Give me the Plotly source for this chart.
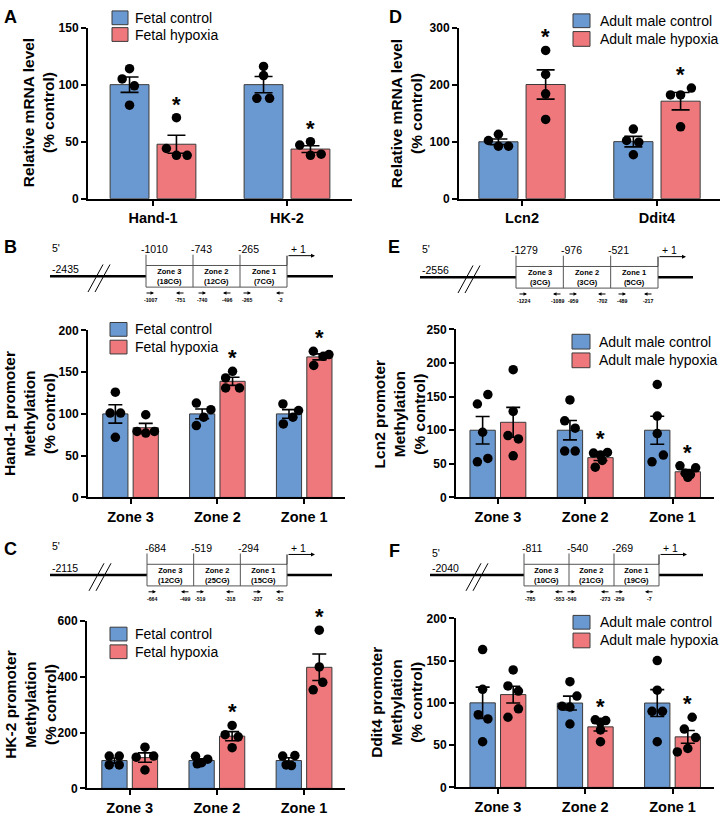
import numpy as np
import plotly.graph_objects as go

# ---------------- data ----------------
FETAL_NAMES = ["Fetal control", "Fetal hypoxia"]
ADULT_NAMES = ["Adult male control", "Adult male hypoxia"]
ZONES = ["Zone 3", "Zone 2", "Zone 1"]

# A: fetal mRNA
A_CATS = ["Hand-1", "HK-2"]
A_CTRL = [[114, 105, 99, 82], [116, 108, 88, 88]]
A_HYP = [[71, 44, 38, 38], [47, 50, 38, 39]]
A_STAR = [True, True]
A_YTICKS = [0, 50, 100, 150]
A_YTITLE = ["Relative mRNA level", "(% control)"]

# D: adult mRNA
D_CATS = ["Lcn2", "Ddit4"]
D_CTRL = [[113, 102, 92, 92], [122, 102, 99, 77]]
D_HYP = [[260, 218, 184, 139], [182, 182, 194, 126]]
D_STAR = [True, True]
D_YTICKS = [0, 100, 200, 300]
D_YTITLE = ["Relative mRNA level", "(% control)"]

# B: Hand-1 promoter methylation
B_CTRL = [[126, 101, 101, 72], [113, 105, 96, 86], [112, 104, 88, 96]]
B_HYP = [[99, 79, 77, 79], [151, 143, 131, 131], [175, 169, 171, 158]]
B_STAR = [False, True, True]
B_YTICKS = [0, 50, 100, 150, 200]
B_YTITLE = ["Hand-1 promoter", "Methylation", "(% control)"]

# C: HK-2 promoter methylation
C_CTRL = [[116, 116, 84, 84], [115, 105, 92, 88], [116, 118, 84, 82]]
C_HYP = [[148, 112, 116, 66], [226, 193, 185, 146], [568, 436, 381, 354]]
C_STAR = [False, True, True]
C_YTICKS = [0, 200, 400, 600]
C_YTITLE = ["HK-2 promoter", "Methylation", "(% control)"]

# E: Lcn2 promoter methylation
E_CTRL = [[139, 153, 97, 53, 58], [145, 114, 103, 69, 69], [168, 121, 95, 53, 63]]
E_HYP = [[190, 128, 92, 87, 62], [66, 67, 63, 45, 55], [47, 44, 36, 34, 30]]
E_STAR = [False, True, True]
E_YTICKS = [0, 50, 100, 150, 200, 250]
E_YTITLE = ["Lcn2 promoter", "Methylation", "(% control)"]

# F: Ddit4 promoter methylation
F_CTRL = [[163, 116, 86, 81, 54], [125, 108, 96, 95, 75], [150, 115, 90, 90, 54]]
F_HYP = [[139, 120, 114, 93, 83], [80, 79, 77, 54, 68], [83, 69, 59, 42, 46]]
F_STAR = [False, True, True]
F_YTICKS = [0, 50, 100, 150, 200]
F_YTITLE = ["Ddit4 promoter", "Methylation", "(% control)"]

# promoter diagram labels
B_DIAG_START = "-2435"
B_DIAG_UP = ["-1010", "-743", "-265"]
B_DIAG_CG = ["(18CG)", "(12CG)", "(7CG)"]
B_PRIMERS = ["-1007", "-751", "-740", "-496", "-265", "-2"]

C_DIAG_START = "-2115"
C_DIAG_UP = ["-684", "-519", "-294"]
C_DIAG_CG = ["(12CG)", "(25CG)", "(15CG)"]
C_PRIMERS = ["-664", "-499", "-519", "-318", "-237", "-52"]

E_DIAG_START = "-2556"
E_DIAG_UP = ["-1279", "-976", "-521"]
E_DIAG_CG = ["(3CG)", "(3CG)", "(5CG)"]
E_PRIMERS = ["-1224", "-1089", "-959", "-702", "-489", "-217"]

F_DIAG_START = "-2040"
F_DIAG_UP = ["-811", "-540", "-269"]
F_DIAG_CG = ["(10CG)", "(21CG)", "(19CG)"]
F_PRIMERS = ["-785", "-553", "-540", "-273", "-259", "-7"]

# ---------------- style / layout ----------------
W, H = 724, 817
BLUE = "#6A99D1"
RED = "#EE787B"
EDGE = "#3a3a3a"
FONT = "Liberation Sans, Arial, sans-serif"
OFF = 0.175
BW = 0.29

# dot spreading (category units), style only
A_JC = [[0, -0.055, 0.036, 0], [0, 0, -0.05, 0.045]]
A_JH = [[0, -0.075, 0, 0.08], [-0.08, 0, 0, 0.08]]
D_JC = [[0, -0.074, 0, 0.075], [0, -0.05, 0.04, 0]]
D_JH = [[0, 0, 0, 0], [-0.075, 0, 0.08, 0]]
B_JC = [[0, -0.06, 0.06, 0], [-0.067, 0.1, 0.017, -0.067], [-0.07, 0.11, -0.065, 0.045]]
B_JH = [[0, -0.1, 0, 0.1], [0, -0.08, -0.08, 0.08], [-0.07, 0.045, 0.11, -0.065]]
C_JC = [[-0.06, 0.055, -0.06, 0.055], [-0.07, 0.07, 0.0, -0.05], [-0.07, 0.07, -0.03, 0.03]]
C_JH = [[0, -0.1, 0.1, 0], [0, -0.08, 0.07, 0], [0, 0, 0.04, -0.07]]
E_JC = [[-0.06, 0.06, 0, -0.06, 0.06], [0, -0.06, 0.06, -0.06, 0.06], [0, 0, 0, -0.06, 0.07]]
E_JH = [[0, 0, -0.06, 0.06, 0], [-0.08, 0.08, 0, -0.06, 0.02], [-0.09, 0.09, -0.03, 0.03, 0]]
F_JC = [[0, 0, -0.05, 0.06, 0], [0, 0.08, -0.09, 0, 0], [0, 0, -0.06, 0.06, 0]]
F_JH = [[0, -0.06, 0.06, 0.06, -0.06], [-0.06, 0.06, 0.0, 0.0, 0.0], [0.05, -0.04, 0.09, -0.12, 0]]

PANELS = [
    dict(letter="A", lpos=(10, 10), cats=A_CATS, ctrl=A_CTRL, hyp=A_HYP, jc=A_JC, jh=A_JH, star=A_STAR,
         ytv=A_YTICKS, yr=(0, 150), xd=(88, 352), yd=(21, 195), xr=(-0.485, 1.485), cap=9,
         ytitle=A_YTITLE, tx=38, names=FETAL_NAMES,
         leg=dict(sx=(112, 128), rows=[(4, 18), (21, 35)], tx=133)),
    dict(letter="D", lpos=(395, 10), cats=D_CATS, ctrl=D_CTRL, hyp=D_HYP, jc=D_JC, jh=D_JH, star=D_STAR,
         ytv=D_YTICKS, yr=(0, 300), xd=(459, 720), yd=(21, 195), xr=(-0.467, 1.467), cap=9,
         ytitle=D_YTITLE, tx=406, names=ADULT_NAMES,
         leg=dict(sx=(573, 590), rows=[(7, 21), (25, 40)], tx=598)),
    dict(letter="B", lpos=(10, 244), cats=ZONES, ctrl=B_CTRL, hyp=B_HYP, jc=B_JC, jh=B_JH, star=B_STAR,
         ytv=B_YTICKS, yr=(0, 200), xd=(88, 345), yd=(329, 499), xr=(-0.49, 2.47), cap=7,
         ytitle=B_YTITLE, tx=30, names=FETAL_NAMES,
         leg=dict(sx=(110, 127), rows=[(321, 335), (339, 353)], tx=133)),
    dict(letter="E", lpos=(394, 244), cats=ZONES, ctrl=E_CTRL, hyp=E_HYP, jc=E_JC, jh=E_JH, star=E_STAR,
         ytv=E_YTICKS, yr=(0, 250), xd=(456, 714), yd=(328, 499), xr=(-0.48, 2.475), cap=7,
         ytitle=E_YTITLE, tx=399, names=ADULT_NAMES,
         leg=dict(sx=(572, 590), rows=[(333, 348), (352, 367)], tx=597)),
    dict(letter="C", lpos=(10, 551), cats=ZONES, ctrl=C_CTRL, hyp=C_HYP, jc=C_JC, jh=C_JH, star=C_STAR,
         ytv=C_YTICKS, yr=(0, 600), xd=(87, 345), yd=(625, 795), xr=(-0.49, 2.47), cap=7,
         ytitle=C_YTITLE, tx=31, names=FETAL_NAMES,
         leg=dict(sx=(110, 127), rows=[(631, 645), (649, 663)], tx=133)),
    dict(letter="F", lpos=(394, 553), cats=ZONES, ctrl=F_CTRL, hyp=F_HYP, jc=F_JC, jh=F_JH, star=F_STAR,
         ytv=F_YTICKS, yr=(0, 200), xd=(456, 714), yd=(622, 794), xr=(-0.48, 2.475), cap=7,
         ytitle=F_YTITLE, tx=397, names=ADULT_NAMES,
         leg=dict(sx=(573, 590), rows=[(619, 633), (637, 652)], tx=598)),
]

DIAGRAMS = [
    dict(x0=50, x1=333, bx=146, bw=141, T=263, fdy=-18, start=B_DIAG_START, up=B_DIAG_UP, cg=B_DIAG_CG,
         primers=B_PRIMERS, pxo=[4, 34, 56, 81, 101, 134]),
    dict(x0=420, x1=693, bx=516, bw=142, T=264, fdy=-18, start=E_DIAG_START, up=E_DIAG_UP, cg=E_DIAG_CG,
         primers=E_PRIMERS, pxo=[7, 41, 57, 86, 106, 132]),
    dict(x0=50, x1=332, bx=147, bw=140, T=567, fdy=-19, start=C_DIAG_START, up=C_DIAG_UP, cg=C_DIAG_CG,
         primers=C_PRIMERS, pxo=[5, 38, 53, 83, 110, 133]),
    dict(x0=430, x1=703, bx=524, bw=135, T=567, fdy=-11, start=F_DIAG_START, up=F_DIAG_UP, cg=F_DIAG_CG,
         primers=F_PRIMERS, pxo=[6, 35, 47, 81, 95, 125]),
]


def X(x):
    return x / W


def Y(y):
    return 1 - y / H


fig = go.Figure()
axes = {}
annotations = []
shapes = []

for k, p in enumerate(PANELS, start=1):
    sfx = "" if k == 1 else str(k)
    xa, ya = "x" + sfx, "y" + sfx
    ncat = len(p["cats"])
    groups = [(p["ctrl"], p["jc"], BLUE, p["names"][0], -OFF),
              (p["hyp"], p["jh"], RED, p["names"][1], OFF)]
    for g, (vals, jit, color, name, off) in enumerate(groups):
        means = [float(np.mean(v)) for v in vals]
        sems = [float(np.std(v, ddof=1) / np.sqrt(len(v))) for v in vals]
        xs = [i + off for i in range(ncat)]
        fig.add_trace(go.Bar(
            x=xs, y=means, width=BW, name=name, showlegend=False,
            marker=dict(color=color, line=dict(color=EDGE, width=1)),
            error_y=dict(type="data", array=sems, visible=True, color="black",
                         thickness=1.6, width=p["cap"]),
            xaxis=xa, yaxis=ya, hoverinfo="skip"))
        dx, dy = [], []
        for i, (v, j) in enumerate(zip(vals, jit)):
            for val, jj in zip(v, j):
                dx.append(i + off + jj)
                dy.append(val)
        fig.add_trace(go.Scatter(
            x=dx, y=dy, mode="markers", showlegend=False, cliponaxis=False,
            marker=dict(color="black", size=9.5, line=dict(width=0)),
            xaxis=xa, yaxis=ya, hoverinfo="skip"))
        if g == 1:
            for i, s in enumerate(p["star"]):
                if s:
                    top = max(max(vals[i]), means[i] + sems[i])
                    annotations.append(dict(
                        x=i + off, y=top, xref=xa, yref=ya, text="*", showarrow=False,
                        yanchor="bottom", yshift=-1,
                        font=dict(size=22, color="black", family=FONT, weight="bold")))

    axes["xaxis" + sfx] = dict(
        domain=[X(p["xd"][0]), X(p["xd"][1])], range=list(p["xr"]), anchor=ya,
        tickmode="array", tickvals=list(range(ncat)), ticktext=p["cats"],
        showline=True, linecolor="black", linewidth=2, ticks="outside", ticklen=5,
        tickwidth=2, tickcolor="black", showgrid=False, zeroline=False, fixedrange=True,
        tickfont=dict(family=FONT, size=14.5, color="black", weight="bold"))
    axes["yaxis" + sfx] = dict(
        domain=[Y(p["yd"][1]), Y(p["yd"][0])], range=list(p["yr"]), anchor=xa,
        tickmode="array", tickvals=p["ytv"],
        showline=True, linecolor="black", linewidth=2, ticks="outside", ticklen=5,
        tickwidth=2, tickcolor="black", showgrid=False, zeroline=False, fixedrange=True,
        tickfont=dict(family=FONT, size=12, color="black", weight="bold"))

    # y title
    annotations.append(dict(
        xref="paper", yref="paper", x=X(p["tx"]), y=Y((p["yd"][0] + p["yd"][1]) / 2),
        text="<br>".join(p["ytitle"]), textangle=-90, showarrow=False,
        xanchor="center", yanchor="middle",
        font=dict(family=FONT, size=15.5, color="black", weight="bold")))
    # panel letter
    annotations.append(dict(
        xref="paper", yref="paper", x=X(p["lpos"][0]), y=Y(p["lpos"][1]), text=p["letter"],
        showarrow=False, xanchor="center", yanchor="middle",
        font=dict(family=FONT, size=18, color="black", weight="bold")))
    # legend
    L = p["leg"]
    for r, (y0, y1) in enumerate(L["rows"]):
        shapes.append(dict(type="rect", xref="paper", yref="paper",
                           x0=X(L["sx"][0]), x1=X(L["sx"][1]), y0=Y(y1), y1=Y(y0),
                           fillcolor=[BLUE, RED][r], line=dict(color=EDGE, width=1)))
        annotations.append(dict(
            xref="paper", yref="paper", x=X(L["tx"]), y=Y((y0 + y1) / 2), text=p["names"][r],
            xanchor="left", yanchor="middle", showarrow=False,
            font=dict(family=FONT, size=14, color="black")))


def line(x0, y0, x1, y1, w=1, color="black"):
    shapes.append(dict(type="line", xref="paper", yref="paper", x0=X(x0), y0=Y(y0),
                       x1=X(x1), y1=Y(y1), line=dict(color=color, width=w)))


def text(x, y, s, size, anchor="center", bold=False):
    annotations.append(dict(xref="paper", yref="paper", x=X(x), y=Y(y), text=s,
                            showarrow=False, xanchor=anchor, yanchor="middle",
                            font=dict(family=FONT, size=size, color="black",
                                      weight="bold" if bold else "normal")))


def arrow(xh, yh, ax, size=0.8, w=1):
    annotations.append(dict(xref="paper", yref="paper", x=X(xh), y=Y(yh), ax=ax, ay=0,
                            text="", showarrow=True, arrowhead=2, arrowsize=size,
                            arrowwidth=w, arrowcolor="black", standoff=0, startstandoff=0))


for d in DIAGRAMS:
    bx, bw, T = d["bx"], d["bw"], d["T"]
    ly = T + 11
    line(d["x0"], ly, bx, ly, 2.5)
    line(bx + bw, ly, d["x1"], ly, 2.5)
    shapes.append(dict(type="rect", xref="paper", yref="paper", x0=X(bx), x1=X(bx + bw),
                       y0=Y(T + 22), y1=Y(T), line=dict(color="#555555", width=1)))
    for i in (1, 2):
        line(bx + i * bw / 3, T, bx + i * bw / 3, T + 22, 1, "#555555")
    for i in range(3):
        xv = bx + i * bw / 3
        line(xv, T - 11, xv, T, 1, "#555555")
        text(xv + 8, T - 17, d["up"][i], 10.5)
        text(bx + (i + 0.5) * bw / 3, T + 11,
             ZONES[i] + "<br>" + d["cg"][i], 7.5, bold=True)
    # transcription start
    line(bx + bw, T, bx + bw, T - 10, 1)
    arrow(bx + bw + 28, T - 10, -28, size=0.8, w=1)
    text(bx + bw + 11, T - 17, "+ 1", 10.5)
    text(d["x0"], T + d["fdy"], "5'", 10.5, anchor="left")
    text(d["x0"], T + 4, d["start"], 10.5, anchor="left")
    for dd in (0, 7):
        line(bx - 58 + dd, T + 27, bx - 43 + dd, T - 1, 1)
    for i, (lab, rx) in enumerate(zip(d["primers"], d["pxo"])):
        direc = 1 if i % 2 == 0 else -1
        arrow(bx + rx + 4 * direc, T + 28, -9 * direc, size=0.7, w=1)
        text(bx + rx, T + 35, lab, 5.2, bold=True)

fig.update_layout(
    width=W, height=H, margin=dict(l=0, r=0, t=0, b=0),
    paper_bgcolor="white", plot_bgcolor="white", barmode="overlay",
    showlegend=False, annotations=annotations, shapes=shapes,
    font=dict(family=FONT, color="black"), **axes)

fig.write_html(
    "out.html",
    config={"displayModeBar": False, "staticPlot": True},
    post_script="document.body.style.margin='0';document.documentElement.style.overflow='hidden';document.body.style.overflow='hidden';")
